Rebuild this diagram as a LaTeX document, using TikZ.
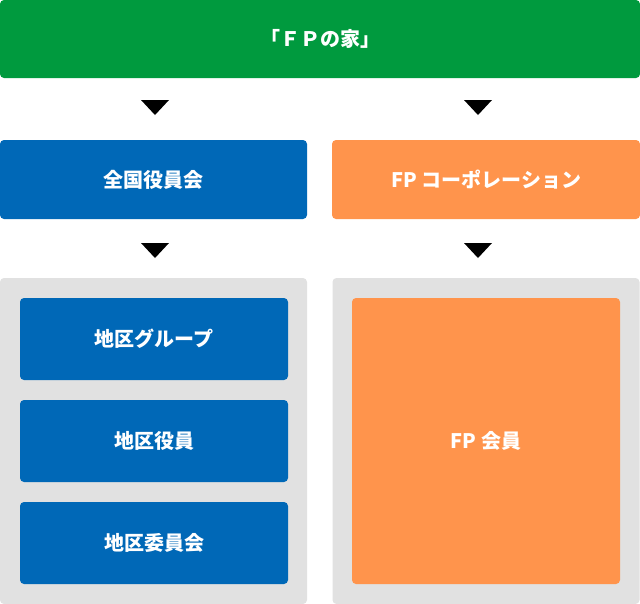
\documentclass[tikz,border=0pt]{standalone}
\usepackage{fontspec}
\newfontfamily\cjk{Noto Sans CJK JP}
\usetikzlibrary{positioning}
\definecolor{fpgreen}{HTML}{009A3E}
\definecolor{fpblue}{HTML}{0068B7}
\definecolor{fporange}{HTML}{FF944C}
\definecolor{fpgray}{HTML}{E1E1E1}
\begin{document}
\begin{tikzpicture}[x=0.75pt, y=-0.75pt,
		box/.style={rectangle, rounded corners=3pt, inner sep=0pt, text=white,
			font=\cjk\bfseries\fontsize{15}{18}\selectfont},
		bluebox/.style={box, fill=fpblue, minimum width=201pt, minimum height=61.5pt},
		panel/.style={rectangle, rounded corners=3pt, fill=fpgray, inner sep=0pt, minimum width=230.25pt, minimum height=244.5pt},
		tri/.style={fill=black}
	]
	\useasboundingbox (0,0) rectangle (640,604);

	\node[box, fill=fpgreen, minimum width=480pt, minimum height=58.5pt] (house) at (320,39) {「ＦＰの家」};

	\node[box, fill=fpblue, minimum width=230.25pt, minimum height=59.25pt] (board) at (153.5,179.5) {全国役員会};
	\node[box, fill=fporange, minimum width=231pt, minimum height=59.25pt] (corp) at (486,179.5) {FP コーポレーション};

	\node[panel] (lpanel) at (153.5,441) {};
	\node[panel] (rpanel) at (486,441) {};

	\node[bluebox] (group) at (154,339) {地区グループ};
	\node[bluebox] (officer) at (154,441) {地区役員};
	\node[bluebox] (committee) at (154,543) {地区委員会};
	\node[box, fill=fporange, minimum width=201pt, minimum height=214.5pt] (member) at (486,441) {FP 会員};

	% arrow marks
	\foreach \x in {155,478}
	{
		\fill[tri] (\x-14,100) -- (\x+14,100) -- (\x,115) -- cycle;
		\fill[tri] (\x-14,243) -- (\x+14,243) -- (\x,258) -- cycle;
	}
\end{tikzpicture}
\end{document}
